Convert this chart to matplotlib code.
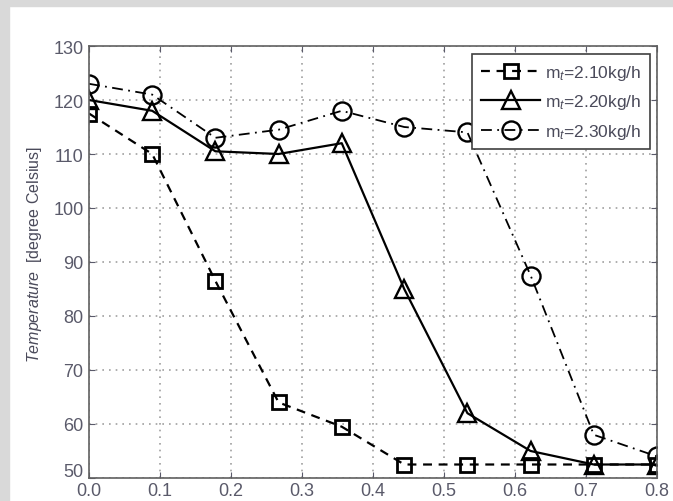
import matplotlib
matplotlib.use("Agg")
import matplotlib.pyplot as plt
import matplotlib.transforms as mtransforms
from matplotlib.patches import Rectangle

plt.rcParams['font.family'] = ['Liberation Sans', 'DejaVu Sans']
plt.rcParams['mathtext.fontset'] = 'custom'
plt.rcParams['mathtext.rm'] = 'Liberation Sans'
plt.rcParams['mathtext.it'] = 'Liberation Sans:italic'

# flow position (10 sample points)
x = [0.0, 0.089, 0.178, 0.267, 0.356, 0.444, 0.533, 0.622, 0.711, 0.8]

# temperature for each mass flow rate
temp_210 = [117.5, 110, 86.5, 64, 59.5, 52.5, 52.5, 52.5, 52.5, 52.5]
temp_220 = [120, 118, 110.5, 110, 112, 85, 62, 55, 52.5, 52.5]
temp_230 = [123, 121, 113, 114.5, 118, 115, 114, 87.5, 58, 54]

labels = ["m$_t$=2.10kg/h", "m$_t$=2.20kg/h", "m$_t$=2.30kg/h"]
xticks = [0.0, 0.1, 0.2, 0.3, 0.4, 0.5, 0.6, 0.7, 0.8]
yticks = [50, 60, 70, 80, 90, 100, 110, 120, 130]

fig = plt.figure(figsize=(6.73, 5.02), dpi=100)
# gray frame around the picture (left and top)
fig.patches.append(Rectangle((0, 0), 9 / 673, 1, transform=fig.transFigure,
                             color="#d9d9d9", zorder=0))
fig.patches.append(Rectangle((0, 1 - 7 / 502), 1, 7 / 502, transform=fig.transFigure,
                             color="#d9d9d9", zorder=0))

ax = fig.add_axes([89 / 673, 23 / 502, 568 / 673, 432 / 502])

ax.plot(x, temp_210, color="black", linestyle=(0, (4, 3)), linewidth=1.6, marker="s",
        markersize=10.5, markerfacecolor="none", markeredgewidth=2, label=labels[0])
ax.plot(x, temp_220, color="black", linestyle="-", linewidth=1.6, marker="^",
        markersize=13, markerfacecolor="none", markeredgewidth=1.7, label=labels[1])
ax.plot(x, temp_230, color="black", linestyle=(0, (6, 3, 1, 3)), linewidth=1.3, marker="o",
        markersize=13, markerfacecolor="none", markeredgewidth=1.7, label=labels[2])

ax.set_xlim(0, 0.8)
ax.set_ylim(50, 130)
ax.set_xticks(xticks)
ax.set_xticklabels(["%.1f" % t for t in xticks])
ax.set_yticks(yticks)
ax.tick_params(direction="in", length=4, colors="#5a5a6a", labelsize=13, pad=4,
               top=True, right=True)
ax.tick_params(axis="x", pad=3)
ax.grid(True, color="#a0a0a0", linestyle=(0, (1, 3)), linewidth=1.2)
for s in ax.spines.values():
    s.set_color("#606060")
    s.set_linewidth(1.2)

# "50" sits a little higher than its tick, clear of "0.0"
lab50 = ax.yaxis.get_major_ticks()[0].label1
lab50.set_transform(lab50.get_transform() +
                    mtransforms.ScaledTranslation(0, 8 / 100, fig.dpi_scale_trans))

ax.set_ylabel(r"$\it{Temperature}$  [degree Celsius]", fontsize=11.5, color="#4a4a5a")
ax.yaxis.set_label_coords(-0.079, 0.52)

leg = ax.legend(loc="upper right", bbox_to_anchor=(0.988, 0.981), fontsize=12.5,
                handlelength=3.4, handletextpad=0.3, borderpad=0.5, labelspacing=0.6,
                borderaxespad=0, fancybox=False, framealpha=1, edgecolor="#404040")
leg.get_frame().set_linewidth(1.2)
for t in leg.get_texts():
    t.set_color("#4a4a5a")

fig.savefig("out.png", dpi=100)
